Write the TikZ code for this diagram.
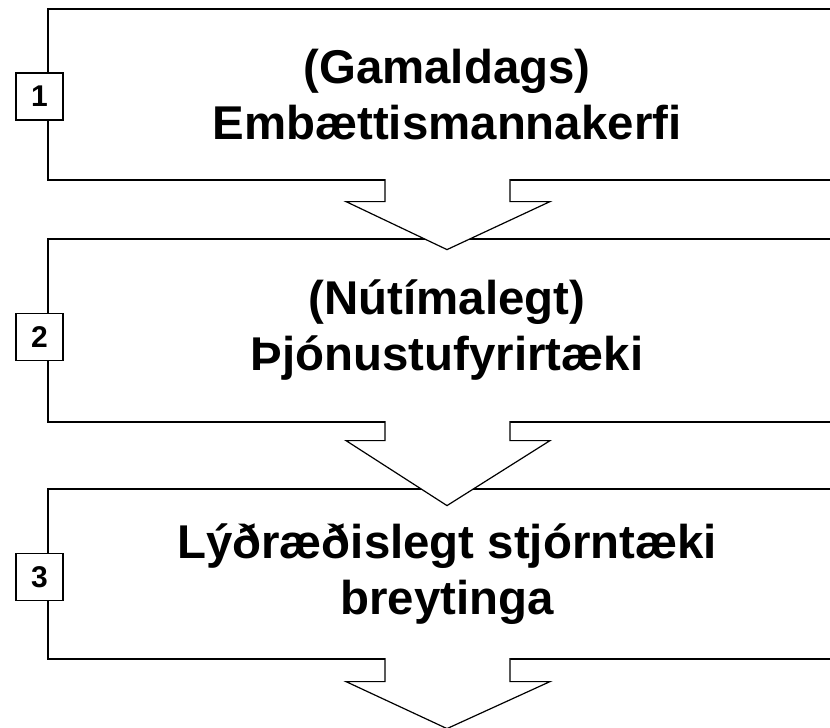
\documentclass[tikz,border=0pt]{standalone}
\usepackage{fontspec}
\setmainfont{Liberation Sans}
\begin{document}
\begin{tikzpicture}[x=1pt,y=-1pt,
  stage/.style={draw, line width=1.2pt, minimum width=798pt, align=center,
    font=\fontsize{47.4}{56}\selectfont\bfseries, inner sep=0pt},
  numbox/.style={draw, fill=white, line width=1.2pt, minimum size=47pt,
    font=\fontsize{30}{32}\selectfont\bfseries, inner sep=0pt},
  blockarrow/.style={draw, fill=white, line width=1.2pt, line join=miter}]
\useasboundingbox (0,0) rectangle (830,728);
\clip (0,0) rectangle (830,728);
% stage boxes
\node[stage, minimum height=171pt] (b1) at (447,94.5) {(Gamaldags)\\Embættismannakerfi};
\node[stage, minimum height=183pt] (b2) at (447,330.5) {(Nútímalegt)\\Þjónustufyrirtæki};
\node[stage, minimum height=170pt] (b3) at (447,574) {Lýðræðislegt stjórntæki\\breytinga};
% block arrows
\draw[blockarrow] ([shift={(-62,-1.5)}]b1.south) -- ([shift={(-62,21)}]b1.south)
  -- ([shift={(-101,21)}]b1.south) -- ([shift={(0,69)}]b1.south) coordinate (t1)
  -- ([shift={(103,21)}]b1.south) -- ([shift={(63,21)}]b1.south) -- ([shift={(63,-1.5)}]b1.south);
\draw[blockarrow] ([shift={(-62,-1.5)}]b2.south) -- ([shift={(-62,18)}]b2.south)
  -- ([shift={(-101,18)}]b2.south) -- ([shift={(0,83)}]b2.south) coordinate (t2)
  -- ([shift={(103,18)}]b2.south) -- ([shift={(63,18)}]b2.south) -- ([shift={(63,-1.5)}]b2.south);
\draw[blockarrow] ([shift={(-62,-1.5)}]b3.south) -- ([shift={(-62,22)}]b3.south)
  -- ([shift={(-101,22)}]b3.south) -- ([shift={(0,69)}]b3.south) coordinate (t3)
  -- ([shift={(103,22)}]b3.south) -- ([shift={(63,22)}]b3.south) -- ([shift={(63,-1.5)}]b3.south);
% number labels
\node[numbox] (n1) at (39.5,96.5) {1};
\node[numbox] (n2) at (39.5,337) {2};
\node[numbox] (n3) at (39.5,577) {3};
\end{tikzpicture}
\end{document}
